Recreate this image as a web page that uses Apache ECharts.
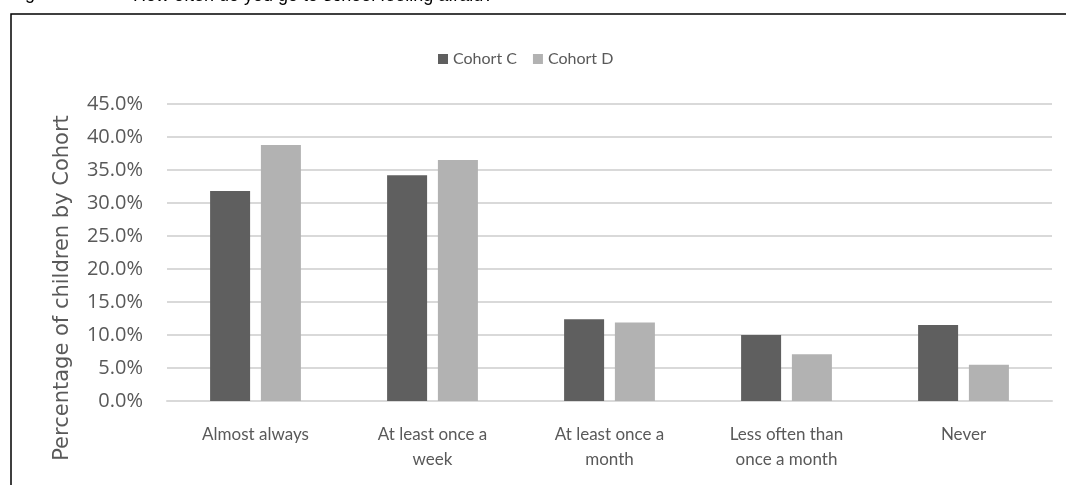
<!DOCTYPE html>
<html>
<head>
<meta charset="utf-8">
<script src="https://cdn.jsdelivr.net/npm/echarts@6/dist/echarts.min.js"></script>
<style>
html,body{margin:0;padding:0;background:#fff;}
#chart{width:1066px;height:485px;}
</style>
</head>
<body>
<div id="chart"></div>
<script>
const categories = ["Almost always", "At least once a\nweek", "At least once a\nmonth", "Less often than\nonce a month", "Never"];
const cohortC = [31.8, 34.2, 12.4, 10.0, 11.5];
const cohortD = [38.8, 36.5, 11.9, 7.1, 5.5];
const seriesNames = ["Cohort C", "Cohort D"];
const yAxisTitle = "Percentage of children by Cohort";
const captionLabel = "Figure 12";
const captionText = "How often do you go to school feeling afraid?";

const chart = echarts.init(document.getElementById('chart'), null, {renderer: 'canvas'});
const labelColor = '#595959';
chart.setOption({
  animation: false,
  backgroundColor: '#ffffff',
  graphic: [
    {type: 'rect', shape: {x: 11, y: 14, width: 1200, height: 600}, style: {fill: 'none', stroke: '#000', lineWidth: 1.5}, silent: true},
    {type: 'text', x: 10, y: -15, style: {text: captionLabel, font: '18px "Liberation Sans"', fill: '#000'}},
    {type: 'text', x: 133, y: -13, style: {text: captionText, font: '18px "Liberation Sans"', fill: '#000'}},
    {type: 'text', x: 63, y: 288, rotation: Math.PI / 2,
     style: {text: yAxisTitle, font: '21px "DejaVu Sans"', fill: labelColor, align: 'center', verticalAlign: 'middle'}}
  ],
  legend: {
    data: seriesNames,
    top: 46,
    left: 433,
    itemWidth: 10,
    itemHeight: 10,
    itemGap: 16,
    icon: 'rect',
    textStyle: {fontFamily: 'Lato', fontSize: 16, color: labelColor}
  },
  grid: {left: 167, right: 14, top: 104, bottom: 84},
  xAxis: {
    type: 'category',
    data: categories,
    axisLine: {show: true, lineStyle: {color: '#d9d9d9', width: 2}},
    axisTick: {show: false},
    axisLabel: {fontFamily: 'Lato', fontSize: 17, color: labelColor, lineHeight: 25, margin: 21, interval: 0}
  },
  yAxis: {
    type: 'value',
    min: 0,
    max: 45,
    interval: 5,
    axisLine: {show: false},
    axisTick: {show: false},
    splitLine: {lineStyle: {color: '#d9d9d9', width: 2}},
    axisLabel: {
      fontFamily: '"Open Sans"', fontSize: 20, color: labelColor, margin: 24,
      formatter: v => v.toFixed(1) + '%'
    }
  },
  series: [
    {name: seriesNames[0], type: 'bar', data: cohortC, barWidth: 40, barGap: '27%',
     itemStyle: {color: '#5f5f5f'}},
    {name: seriesNames[1], type: 'bar', data: cohortD, barWidth: 40,
     itemStyle: {color: '#b2b2b2'}}
  ]
});
</script>
</body>
</html>
